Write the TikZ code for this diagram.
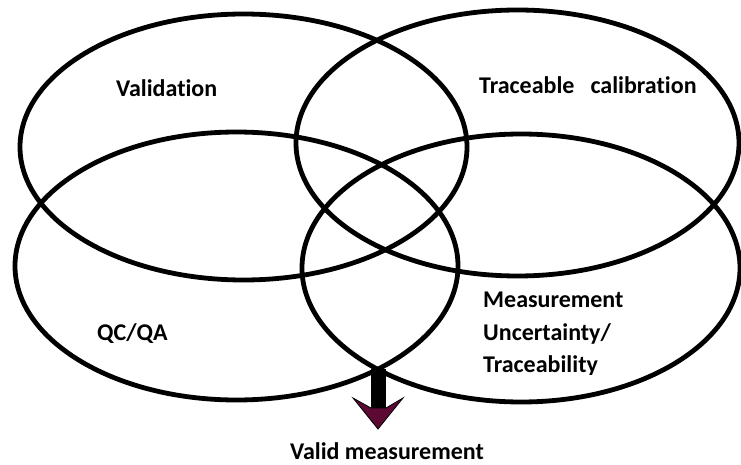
\documentclass[tikz,border=0pt]{standalone}
\usepackage{fontspec}
\setmainfont{Carlito}[Ligatures=NoCommon]
\definecolor{headred}{RGB}{92,10,52}
\begin{document}
\begin{tikzpicture}[x=1pt,y=-1pt,
  ring/.style={draw=black,line width=4.8pt},
  lbl/.style={font=\fontsize{24}{28}\selectfont\bfseries,inner sep=0pt}]
\useasboundingbox (0,0) rectangle (741,465);
% four overlapping ellipses
\draw[ring] (243.5,147) ellipse [x radius=223.5pt, y radius=133pt];
\draw[ring] (517.5,143) ellipse [x radius=221.5pt, y radius=133pt];
\draw[ring] (236.5,266) ellipse [x radius=221.5pt, y radius=134pt];
\draw[ring] (521,268) ellipse [x radius=219pt, y radius=134pt];
% labels
\node[lbl,anchor=base west] (val) at (116,97) {Validation};
\node[lbl,anchor=base west] (trc) at (479,94) {Traceable\hspace{16pt}calibration};
\node[lbl,anchor=base west] (qc) at (97,340) {QC/QA};
\node[lbl,anchor=base west] (mu1) at (483,307) {Measurement};
\node[lbl,anchor=base west] (mu2) at (483,340) {Uncertainty/};
\begin{scope}
\clip (470,345) rectangle (660,374);
\node[lbl,anchor=base west] (mu3) at (483,372) {Traceability};
\end{scope}
% arrow to result
\coordinate (meet) at (378,369);
\coordinate (shaftend) at (378,409);
\node[lbl,anchor=base] (valid) at (387,459) {Valid measurement};
\draw[line width=15pt,black] (meet) -- (shaftend);
\filldraw[fill=headred,draw=black,line width=0.8pt]
  (353,398) -- (371,408) -- (386,408) -- (403,398) -- (378,429) -- cycle;
\end{tikzpicture}
\end{document}
